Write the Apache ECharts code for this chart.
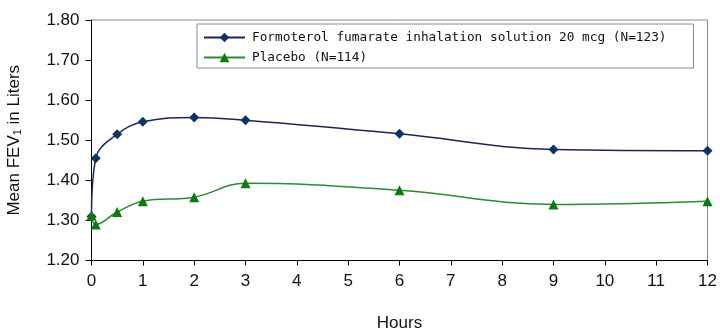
<!DOCTYPE html>
<html>
<head>
<meta charset="utf-8">
<script src="https://cdn.jsdelivr.net/npm/echarts@6/dist/echarts.min.js"></script>
<style>html,body{margin:0;padding:0;background:#fff;}#c{width:720px;height:334px;}</style>
</head>
<body>
<div id="c"></div>
<script>
const hours = [0, 0.083, 0.5, 1, 2, 3, 6, 9, 12];
const formoterol = [1.31, 1.455, 1.515, 1.546, 1.557, 1.550, 1.516, 1.477, 1.474];
const placebo = [1.312, 1.290, 1.321, 1.348, 1.358, 1.393, 1.375, 1.340, 1.348];
const seriesNames = ['Formoterol fumarate inhalation solution 20 mcg (N=123)', 'Placebo (N=114)'];
const xTicks = [0,1,2,3,4,5,6,7,8,9,10,11,12];
const yTicks = [1.20,1.30,1.40,1.50,1.60,1.70,1.80];

const chart = echarts.init(document.getElementById('c'), null, {renderer:'canvas'});
const axisFont = {fontFamily:'Liberation Sans, Arial, sans-serif', fontSize:17, color:'#111'};
chart.setOption({
  animation:false,
  backgroundColor:'#fff',
  grid:{left:91.5, right:12.5, top:20, bottom:73.5, show:true, borderColor:'#8a8a8a', borderWidth:1, containLabel:false, outerBoundsMode:'none'},
  legend:{
    left:197, top:24, orient:'vertical',
    backgroundColor:'#fff', borderColor:'#8a8a8a', borderWidth:1,
    padding:[7,27,4,6], itemGap:7, itemWidth:41, itemHeight:12,
    textStyle:{fontFamily:'DejaVu Sans Mono, monospace', fontSize:12.75, color:'#111', padding:[0,0,0,2]},
    data:seriesNames
  },
  xAxis:{
    type:'value', min:xTicks[0], max:xTicks[xTicks.length-1], interval:1,
    name:'Hours', nameLocation:'middle', nameGap:54,
    nameTextStyle:axisFont,
    axisLine:{lineStyle:{color:'#000', width:1}},
    axisTick:{show:true, length:5, lineStyle:{color:'#000'}},
    axisLabel:Object.assign({margin:12}, axisFont),
    splitLine:{show:false}
  },
  yAxis:{
    type:'value', min:yTicks[0], max:yTicks[yTicks.length-1], interval:0.1,
    name:'Mean FEV{s|1} in Liters', nameLocation:'middle', nameGap:68, nameRotate:90,
    nameTextStyle:Object.assign({rich:{s:{fontFamily:'Liberation Sans, Arial, sans-serif', fontSize:11, color:'#111', padding:[8,0,0,0]}}}, axisFont),
    axisLine:{show:true, lineStyle:{color:'#000', width:1}},
    axisTick:{show:true, length:6, lineStyle:{color:'#000'}},
    axisLabel:Object.assign({margin:12, formatter:v=>v.toFixed(2)}, axisFont),
    splitLine:{show:false}
  },
  series:[
    {
      name:seriesNames[0], type:'line', smooth:0.4,
      data:hours.map((h,i)=>[h, formoterol[i]]),
      symbol:'diamond', symbolSize:10,
      lineStyle:{color:'#1c2558', width:1.5},
      itemStyle:{color:'#0e3466', borderWidth:0},
      z:2
    },
    {
      name:seriesNames[1], type:'line', smooth:0.4,
      data:hours.map((h,i)=>[h, placebo[i]]),
      symbol:'triangle', symbolSize:10,
      lineStyle:{color:'#2e8a2e', width:1.5},
      itemStyle:{color:'#0b7a12', borderWidth:0},
      z:3
    }
  ]
});
</script>
</body>
</html>
